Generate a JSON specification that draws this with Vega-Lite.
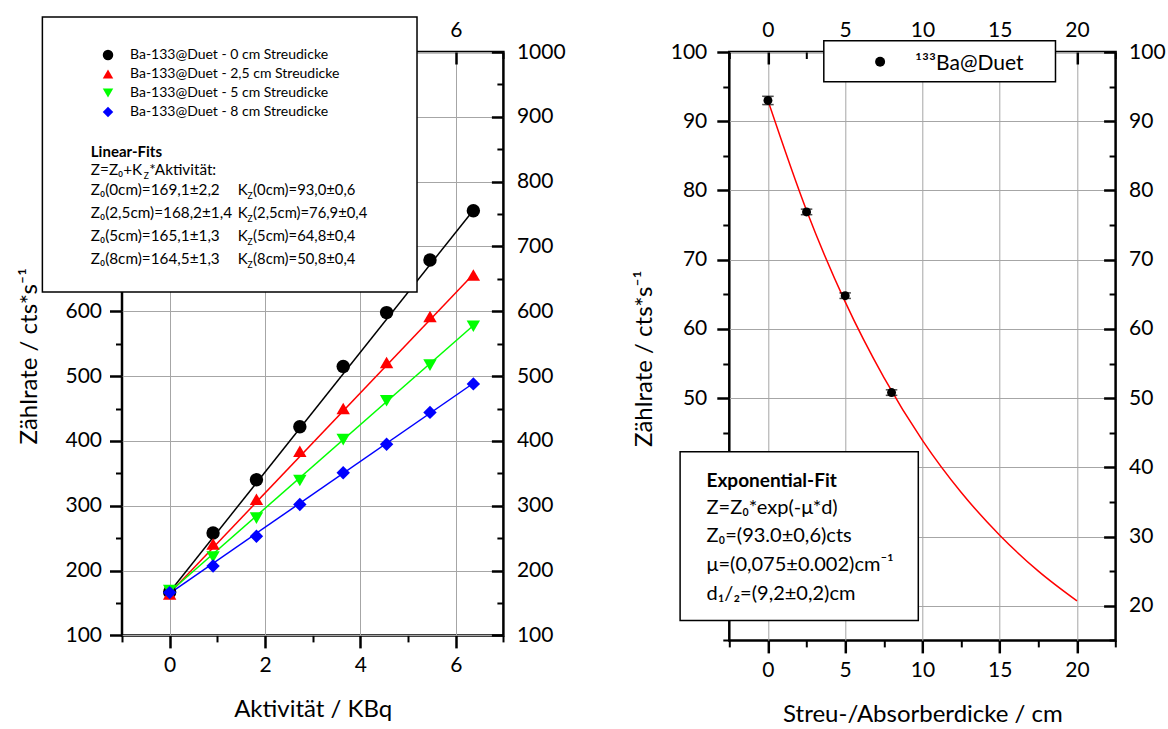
{
  "$schema": "https://vega.github.io/schema/vega-lite/v6.json",
  "background": "white",
  "padding": {"left": 16, "top": 14, "right": 5, "bottom": 2},
  "config": {
    "font": "Lato",
    "view": {"stroke": "black", "strokeWidth": 2.5},
    "axis": {
      "labelFont": "Lato", "titleFont": "Lato", "labelColor": "black", "titleColor": "black",
      "tickColor": "black", "domain": false, "labelFontSize": 21, "titleFontSize": 24,
      "titleFontWeight": "normal", "gridColor": "#a6a6a6", "gridWidth": 1, "gridOpacity": 1,
      "labelFlush": false, "labelOverlap": false, "format": "d"
    }
  },
  "datasets": {
    "leftpts": [
      {"series": "Ba-133@Duet - 0 cm Streudicke", "x": 0, "y": 167},
      {"series": "Ba-133@Duet - 0 cm Streudicke", "x": 0.91, "y": 258},
      {"series": "Ba-133@Duet - 0 cm Streudicke", "x": 1.82, "y": 340},
      {"series": "Ba-133@Duet - 0 cm Streudicke", "x": 2.73, "y": 422},
      {"series": "Ba-133@Duet - 0 cm Streudicke", "x": 3.64, "y": 515},
      {"series": "Ba-133@Duet - 0 cm Streudicke", "x": 4.55, "y": 598},
      {"series": "Ba-133@Duet - 0 cm Streudicke", "x": 5.46, "y": 679},
      {"series": "Ba-133@Duet - 0 cm Streudicke", "x": 6.37, "y": 755},
      {"series": "Ba-133@Duet - 2,5 cm Streudicke", "x": 0, "y": 164},
      {"series": "Ba-133@Duet - 2,5 cm Streudicke", "x": 0.91, "y": 241},
      {"series": "Ba-133@Duet - 2,5 cm Streudicke", "x": 1.82, "y": 310},
      {"series": "Ba-133@Duet - 2,5 cm Streudicke", "x": 2.73, "y": 384},
      {"series": "Ba-133@Duet - 2,5 cm Streudicke", "x": 3.64, "y": 450},
      {"series": "Ba-133@Duet - 2,5 cm Streudicke", "x": 4.55, "y": 521},
      {"series": "Ba-133@Duet - 2,5 cm Streudicke", "x": 5.46, "y": 592},
      {"series": "Ba-133@Duet - 2,5 cm Streudicke", "x": 6.37, "y": 656},
      {"series": "Ba-133@Duet - 5 cm Streudicke", "x": 0, "y": 169},
      {"series": "Ba-133@Duet - 5 cm Streudicke", "x": 0.91, "y": 221},
      {"series": "Ba-133@Duet - 5 cm Streudicke", "x": 1.82, "y": 281},
      {"series": "Ba-133@Duet - 5 cm Streudicke", "x": 2.73, "y": 339},
      {"series": "Ba-133@Duet - 5 cm Streudicke", "x": 3.64, "y": 402},
      {"series": "Ba-133@Duet - 5 cm Streudicke", "x": 4.55, "y": 462},
      {"series": "Ba-133@Duet - 5 cm Streudicke", "x": 5.46, "y": 517},
      {"series": "Ba-133@Duet - 5 cm Streudicke", "x": 6.37, "y": 577},
      {"series": "Ba-133@Duet - 8 cm Streudicke", "x": 0, "y": 166},
      {"series": "Ba-133@Duet - 8 cm Streudicke", "x": 0.91, "y": 207},
      {"series": "Ba-133@Duet - 8 cm Streudicke", "x": 1.82, "y": 253},
      {"series": "Ba-133@Duet - 8 cm Streudicke", "x": 2.73, "y": 302},
      {"series": "Ba-133@Duet - 8 cm Streudicke", "x": 3.64, "y": 351},
      {"series": "Ba-133@Duet - 8 cm Streudicke", "x": 4.55, "y": 395},
      {"series": "Ba-133@Duet - 8 cm Streudicke", "x": 5.46, "y": 444},
      {"series": "Ba-133@Duet - 8 cm Streudicke", "x": 6.37, "y": 488}
    ],
    "leftfit": [
      {"series": "Ba-133@Duet - 0 cm Streudicke", "x": 0, "y": 167},
      {"series": "Ba-133@Duet - 0 cm Streudicke", "x": 6.37, "y": 756},
      {"series": "Ba-133@Duet - 2,5 cm Streudicke", "x": 0, "y": 165},
      {"series": "Ba-133@Duet - 2,5 cm Streudicke", "x": 6.37, "y": 657},
      {"series": "Ba-133@Duet - 5 cm Streudicke", "x": 0, "y": 167},
      {"series": "Ba-133@Duet - 5 cm Streudicke", "x": 6.37, "y": 578},
      {"series": "Ba-133@Duet - 8 cm Streudicke", "x": 0, "y": 165},
      {"series": "Ba-133@Duet - 8 cm Streudicke", "x": 6.37, "y": 489}
    ],
    "rightpts": [
      {"d": 0, "z": 93.0, "lo": 92.4, "hi": 93.6},
      {"d": 2.5, "z": 76.9, "lo": 76.5, "hi": 77.3},
      {"d": 5, "z": 64.8, "lo": 64.4, "hi": 65.2},
      {"d": 8, "z": 50.8, "lo": 50.4, "hi": 51.2}
    ],
    "rightfit": [
      {"d": 0, "z": 93.0},
      {"d": 2.5, "z": 77.1},
      {"d": 5, "z": 63.9},
      {"d": 7.5, "z": 53.0},
      {"d": 10, "z": 43.9},
      {"d": 12.5, "z": 36.4},
      {"d": 15, "z": 30.2},
      {"d": 17.5, "z": 25.0},
      {"d": 20, "z": 20.7}
    ]
  },
  "spacing": 225.3,
  "bounds": "flush",
  "resolve": {"scale": {"color": "independent", "shape": "independent"}, "legend": {"color": "independent", "shape": "independent"}},
  "hconcat": [
    {
      "width": 381.4,
      "height": 583.4,
      "resolve": {"axis": {"x": "independent", "y": "independent"}},
      "layer": [
        {
          "data": {"name": "leftfit"},
          "mark": {"type": "line", "strokeWidth": 1.5},
          "encoding": {
            "x": {"field": "x", "type": "quantitative", "scale": {"domain": [-1, 7], "nice": false, "zero": false},
              "axis": {"orient": "bottom", "values": [0, 2, 4, 6], "grid": true, "tickSize": 12.5, "tickWidth": 2.5, "labelPadding": 7, "title": "Aktivität / KBq", "titlePadding": 22}},
            "y": {"field": "y", "type": "quantitative", "scale": {"domain": [100, 1000], "nice": false, "zero": false},
              "axis": {"orient": "left", "values": [100, 200, 300, 400, 500, 600, 700, 800, 900, 1000], "grid": true, "tickSize": 12.5, "tickWidth": 2.5, "labelPadding": 8, "title": "Zählrate / cts*s⁻¹", "titlePadding": 11, "titleY": 303.7}},
            "stroke": {"field": "series", "type": "nominal",
              "scale": {"domain": ["Ba-133@Duet - 0 cm Streudicke", "Ba-133@Duet - 2,5 cm Streudicke", "Ba-133@Duet - 5 cm Streudicke", "Ba-133@Duet - 8 cm Streudicke"], "range": ["#000000", "#ff0000", "#00ff00", "#0000ff"]},
              "legend": null}
          }
        },
        {
          "data": {"name": "leftpts"},
          "mark": {"type": "point", "filled": true, "opacity": 1, "size": 180, "strokeWidth": 0},
          "encoding": {
            "x": {"field": "x", "type": "quantitative", "scale": {"domain": [-1, 7], "nice": false, "zero": false},
              "axis": {"orient": "bottom", "values": [-1, 1, 3, 5, 7], "grid": false, "labels": false, "tickSize": 6.5, "tickWidth": 2, "title": null}},
            "y": {"field": "y", "type": "quantitative", "scale": {"domain": [100, 1000], "nice": false, "zero": false},
              "axis": {"orient": "left", "values": [150, 250, 350, 450, 550, 650, 750, 850, 950], "grid": false, "labels": false, "tickSize": 6.5, "tickWidth": 2, "title": null}},
            "color": {"field": "series", "type": "nominal",
              "scale": {"domain": ["Ba-133@Duet - 0 cm Streudicke", "Ba-133@Duet - 2,5 cm Streudicke", "Ba-133@Duet - 5 cm Streudicke", "Ba-133@Duet - 8 cm Streudicke"], "range": ["#000000", "#ff0000", "#00ff00", "#0000ff"]},
              "legend": {"orient": "none", "legendX": -21, "legendY": -4, "title": null, "padding": 0, "labelFont": "Lato", "labelFontSize": 14, "labelColor": "black", "labelLimit": 0, "symbolSize": 110, "symbolStrokeWidth": 0, "labelOffset": 15, "rowPadding": 5}},
            "shape": {"field": "series", "type": "nominal",
              "scale": {"domain": ["Ba-133@Duet - 0 cm Streudicke", "Ba-133@Duet - 2,5 cm Streudicke", "Ba-133@Duet - 5 cm Streudicke", "Ba-133@Duet - 8 cm Streudicke"], "range": ["circle", "triangle-up", "triangle-down", "diamond"]}}
          }
        },
        {
          "data": {"name": "leftpts"},
          "mark": {"type": "point", "opacity": 0},
          "encoding": {
            "x": {"field": "x", "type": "quantitative", "scale": {"domain": [-1, 7], "nice": false, "zero": false},
              "axis": {"orient": "top", "values": [0, 2, 4, 6], "ticks": false, "tickSize": 0, "labelPadding": 12, "grid": false, "title": null}},
            "y": {"field": "y", "type": "quantitative", "scale": {"domain": [100, 1000], "nice": false, "zero": false},
              "axis": {"orient": "right", "values": [100, 200, 300, 400, 500, 600, 700, 800, 900, 1000], "ticks": false, "tickSize": 0, "labelPadding": 13, "grid": false, "title": null}}
          }
        },
        {
          "data": {"name": "leftpts"},
          "mark": {"type": "point", "opacity": 0},
          "encoding": {
            "x": {"field": "x", "type": "quantitative", "scale": {"domain": [-1, 7], "nice": false, "zero": false},
              "axis": {"orient": "top", "values": [0, 2, 4, 6], "labels": false, "tickSize": -12, "tickWidth": 2.5, "grid": false, "title": null}},
            "y": {"field": "y", "type": "quantitative", "scale": {"domain": [100, 1000], "nice": false, "zero": false},
              "axis": {"orient": "right", "values": [100, 200, 300, 400, 500, 600, 700, 800, 900, 1000], "labels": false, "tickSize": -12, "tickWidth": 2.5, "grid": false, "title": null}}
          }
        },
        {
          "data": {"name": "leftpts"},
          "mark": {"type": "point", "opacity": 0},
          "encoding": {
            "x": {"field": "x", "type": "quantitative", "scale": {"domain": [-1, 7], "nice": false, "zero": false},
              "axis": {"orient": "top", "values": [-1, 1, 3, 5, 7], "labels": false, "tickSize": -6.5, "tickWidth": 2, "grid": false, "title": null}},
            "y": {"field": "y", "type": "quantitative", "scale": {"domain": [100, 1000], "nice": false, "zero": false},
              "axis": {"orient": "right", "values": [150, 250, 350, 450, 550, 650, 750, 850, 950], "labels": false, "tickSize": -6.5, "tickWidth": 2, "grid": false, "title": null}}
          }
        },
        {
          "data": {"values": [{}]},
          "mark": {"type": "rect", "fill": "white", "stroke": "black", "strokeWidth": 1.5},
          "encoding": {
            "x": {"datum": -2.67, "type": "quantitative", "axis": null},
            "x2": {"datum": 5.188},
            "y": {"datum": 1054, "type": "quantitative", "axis": null},
            "y2": {"datum": 629.8}
          }
        },
        {
          "data": {"values": [{}]},
          "mark": {"type": "text", "text": "Linear-Fits", "align": "left", "baseline": "alphabetic", "font": "Lato", "fontSize": 15, "fontWeight": "bold", "color": "black"},
          "encoding": {"x": {"datum": -1.654, "type": "quantitative", "axis": null}, "y": {"datum": 838.5, "type": "quantitative", "axis": null}}
        },
        {
          "data": {"values": [{}]},
          "mark": {"type": "text", "text": "Z=Z₀+K", "align": "left", "baseline": "alphabetic", "font": "Lato", "fontSize": 15.3, "color": "black"},
          "encoding": {"x": {"datum": -1.654, "type": "quantitative", "axis": null}, "y": {"datum": 810.5, "type": "quantitative", "axis": null}}
        },
        {
          "data": {"values": [{}]},
          "mark": {"type": "text", "text": "Z", "align": "left", "baseline": "alphabetic", "font": "Lato", "fontSize": 8.5, "color": "black"},
          "encoding": {"x": {"datum": -0.545, "type": "quantitative", "axis": null}, "y": {"datum": 804.3, "type": "quantitative", "axis": null}}
        },
        {
          "data": {"values": [{}]},
          "mark": {"type": "text", "text": "*Aktivität:", "align": "left", "baseline": "alphabetic", "font": "Lato", "fontSize": 15.3, "color": "black"},
          "encoding": {"x": {"datum": -0.43, "type": "quantitative", "axis": null}, "y": {"datum": 810.5, "type": "quantitative", "axis": null}}
        },
        {
          "data": {"values": [{}]},
          "mark": {"type": "text", "text": ["Z₀(0cm)=169,1±2,2", "Z₀(2,5cm)=168,2±1,4", "Z₀(5cm)=165,1±1,3", "Z₀(8cm)=164,5±1,3"], "lineHeight": 22.8, "align": "left", "baseline": "alphabetic", "font": "Lato", "fontSize": 15.3, "color": "black"},
          "encoding": {"x": {"datum": -1.654, "type": "quantitative", "axis": null}, "y": {"datum": 778.8, "type": "quantitative", "axis": null}}
        },
        {
          "data": {"values": [{}]},
          "mark": {"type": "text", "text": ["K", "K", "K", "K"], "lineHeight": 22.8, "align": "left", "baseline": "alphabetic", "font": "Lato", "fontSize": 15, "color": "black"},
          "encoding": {"x": {"datum": 1.43, "type": "quantitative", "axis": null}, "y": {"datum": 778.8, "type": "quantitative", "axis": null}}
        },
        {
          "data": {"values": [{}]},
          "mark": {"type": "text", "text": ["Z", "Z", "Z", "Z"], "lineHeight": 22.8, "align": "left", "baseline": "alphabetic", "font": "Lato", "fontSize": 8.5, "color": "black"},
          "encoding": {"x": {"datum": 1.63, "type": "quantitative", "axis": null}, "y": {"datum": 772.6, "type": "quantitative", "axis": null}}
        },
        {
          "data": {"values": [{}]},
          "mark": {"type": "text", "text": ["(0cm)=93,0±0,6", "(2,5cm)=76,9±0,4", "(5cm)=64,8±0,4", "(8cm)=50,8±0,4"], "lineHeight": 22.8, "align": "left", "baseline": "alphabetic", "font": "Lato", "fontSize": 14.8, "color": "black"},
          "encoding": {"x": {"datum": 1.75, "type": "quantitative", "axis": null}, "y": {"datum": 778.8, "type": "quantitative", "axis": null}}
        }
      ]
    },
    {
      "width": 386.3,
      "height": 588.4,
      "resolve": {"axis": {"x": "independent", "y": "independent"}},
      "layer": [
        {
          "data": {"name": "rightfit"},
          "mark": {"type": "line", "color": "#ff0000", "strokeWidth": 1.5, "interpolate": "monotone"},
          "encoding": {
            "x": {"field": "d", "type": "quantitative", "scale": {"domain": [-2.5, 22.5], "nice": false, "zero": false},
              "axis": {"orient": "bottom", "values": [0, 5, 10, 15, 20], "grid": true, "tickSize": 12.5, "tickWidth": 2.5, "labelPadding": 7, "title": "Streu-/Absorberdicke / cm", "titlePadding": 22}},
            "y": {"field": "z", "type": "quantitative", "scale": {"domain": [15, 100], "nice": false, "zero": false},
              "axis": {"orient": "left", "values": [20, 30, 40, 50, 60, 70, 80, 90, 100], "grid": true, "tickSize": 12.5, "tickWidth": 2.5, "labelPadding": 10, "title": "Zählrate / cts*s⁻¹", "titlePadding": 14, "titleY": 306.2}}
          }
        },
        {
          "data": {"name": "rightpts"},
          "mark": {"type": "rule", "color": "black", "strokeWidth": 1.5},
          "encoding": {
            "x": {"field": "d", "type": "quantitative", "scale": {"domain": [-2.5, 22.5], "nice": false, "zero": false},
              "axis": {"orient": "bottom", "values": [-2.5, 2.5, 7.5, 12.5, 17.5, 22.5], "grid": false, "labels": false, "tickSize": 6.5, "tickWidth": 2, "title": null}},
            "y": {"field": "lo", "type": "quantitative", "scale": {"domain": [15, 100], "nice": false, "zero": false},
              "axis": {"orient": "left", "values": [15, 25, 35, 45, 55, 65, 75, 85, 95], "grid": false, "labels": false, "tickSize": 6.5, "tickWidth": 2, "title": null}},
            "y2": {"field": "hi"}
          }
        },
        {
          "data": {"name": "rightpts"},
          "mark": {"type": "tick", "orient": "horizontal", "color": "black", "size": 11.5, "thickness": 1.5},
          "encoding": {
            "x": {"field": "d", "type": "quantitative", "axis": null},
            "y": {"field": "lo", "type": "quantitative", "axis": null}
          }
        },
        {
          "data": {"name": "rightpts"},
          "mark": {"type": "tick", "orient": "horizontal", "color": "black", "size": 11.5, "thickness": 1.5},
          "encoding": {
            "x": {"field": "d", "type": "quantitative", "axis": null},
            "y": {"field": "hi", "type": "quantitative", "axis": null}
          }
        },
        {
          "data": {"name": "rightpts"},
          "mark": {"type": "point", "filled": true, "color": "black", "opacity": 1, "size": 80},
          "encoding": {
            "x": {"field": "d", "type": "quantitative", "scale": {"domain": [-2.5, 22.5], "nice": false, "zero": false},
              "axis": {"orient": "top", "values": [0, 5, 10, 15, 20], "ticks": false, "tickSize": 0, "labelPadding": 12, "grid": false, "title": null}},
            "y": {"field": "z", "type": "quantitative", "scale": {"domain": [15, 100], "nice": false, "zero": false},
              "axis": {"orient": "right", "values": [20, 30, 40, 50, 60, 70, 80, 90, 100], "ticks": false, "tickSize": 0, "labelPadding": 13, "grid": false, "title": null}}
          }
        },
        {
          "data": {"name": "rightpts"},
          "mark": {"type": "point", "opacity": 0},
          "encoding": {
            "x": {"field": "d", "type": "quantitative", "scale": {"domain": [-2.5, 22.5], "nice": false, "zero": false},
              "axis": {"orient": "top", "values": [0, 5, 10, 15, 20], "labels": false, "tickSize": -12, "tickWidth": 2.5, "grid": false, "title": null}},
            "y": {"field": "z", "type": "quantitative", "scale": {"domain": [15, 100], "nice": false, "zero": false},
              "axis": {"orient": "right", "values": [20, 30, 40, 50, 60, 70, 80, 90, 100], "labels": false, "tickSize": -12, "tickWidth": 2.5, "grid": false, "title": null}}
          }
        },
        {
          "data": {"name": "rightpts"},
          "mark": {"type": "point", "opacity": 0},
          "encoding": {
            "x": {"field": "d", "type": "quantitative", "scale": {"domain": [-2.5, 22.5], "nice": false, "zero": false},
              "axis": {"orient": "top", "values": [-2.5, 2.5, 7.5, 12.5, 17.5, 22.5], "labels": false, "tickSize": -6.5, "tickWidth": 2, "grid": false, "title": null}},
            "y": {"field": "z", "type": "quantitative", "scale": {"domain": [15, 100], "nice": false, "zero": false},
              "axis": {"orient": "right", "values": [15, 25, 35, 45, 55, 65, 75, 85, 95], "labels": false, "tickSize": -6.5, "tickWidth": 2, "grid": false, "title": null}}
          }
        },
        {
          "data": {"values": [{}]},
          "mark": {"type": "rect", "fill": "white", "stroke": "black", "strokeWidth": 1.5},
          "encoding": {
            "x": {"datum": 3.616, "type": "quantitative", "axis": null},
            "x2": {"datum": 18.61},
            "y": {"datum": 101.63, "type": "quantitative", "axis": null},
            "y2": {"datum": 95.71}
          }
        },
        {
          "data": {"values": [{}]},
          "mark": {"type": "point", "filled": true, "color": "black", "opacity": 1, "size": 100},
          "encoding": {"x": {"datum": 7.26, "type": "quantitative", "axis": null}, "y": {"datum": 98.6, "type": "quantitative", "axis": null}}
        },
        {
          "data": {"values": [{}]},
          "mark": {"type": "text", "text": "¹³³Ba@Duet", "align": "left", "baseline": "alphabetic", "font": "Lato", "fontSize": 21, "color": "black"},
          "encoding": {"x": {"datum": 9.52, "type": "quantitative", "axis": null}, "y": {"datum": 97.34, "type": "quantitative", "axis": null}}
        },
        {
          "data": {"values": [{}]},
          "mark": {"type": "rect", "fill": "white", "stroke": "black", "strokeWidth": 1.5},
          "encoding": {
            "x": {"datum": -5.684, "type": "quantitative", "axis": null},
            "x2": {"datum": 9.731},
            "y": {"datum": 42.26, "type": "quantitative", "axis": null},
            "y2": {"datum": 17.89}
          }
        },
        {
          "data": {"values": [{}]},
          "mark": {"type": "text", "text": "Exponential-Fit", "align": "left", "baseline": "alphabetic", "font": "Lato", "fontSize": 19, "fontWeight": "bold", "color": "black"},
          "encoding": {"x": {"datum": -3.976, "type": "quantitative", "axis": null}, "y": {"datum": 37.16, "type": "quantitative", "axis": null}}
        },
        {
          "data": {"values": [{}]},
          "mark": {"type": "text", "text": ["Z=Z₀*exp(-μ*d)", "Z₀=(93.0±0,6)cts", "μ=(0,075±0.002)cm⁻¹", "d₁/₂=(9,2±0,2)cm"], "lineHeight": 28.6, "align": "left", "baseline": "alphabetic", "font": "Lato", "fontSize": 20, "color": "black"},
          "encoding": {"x": {"datum": -3.976, "type": "quantitative", "axis": null}, "y": {"datum": 33.3, "type": "quantitative", "axis": null}}
        }
      ]
    }
  ]
}
